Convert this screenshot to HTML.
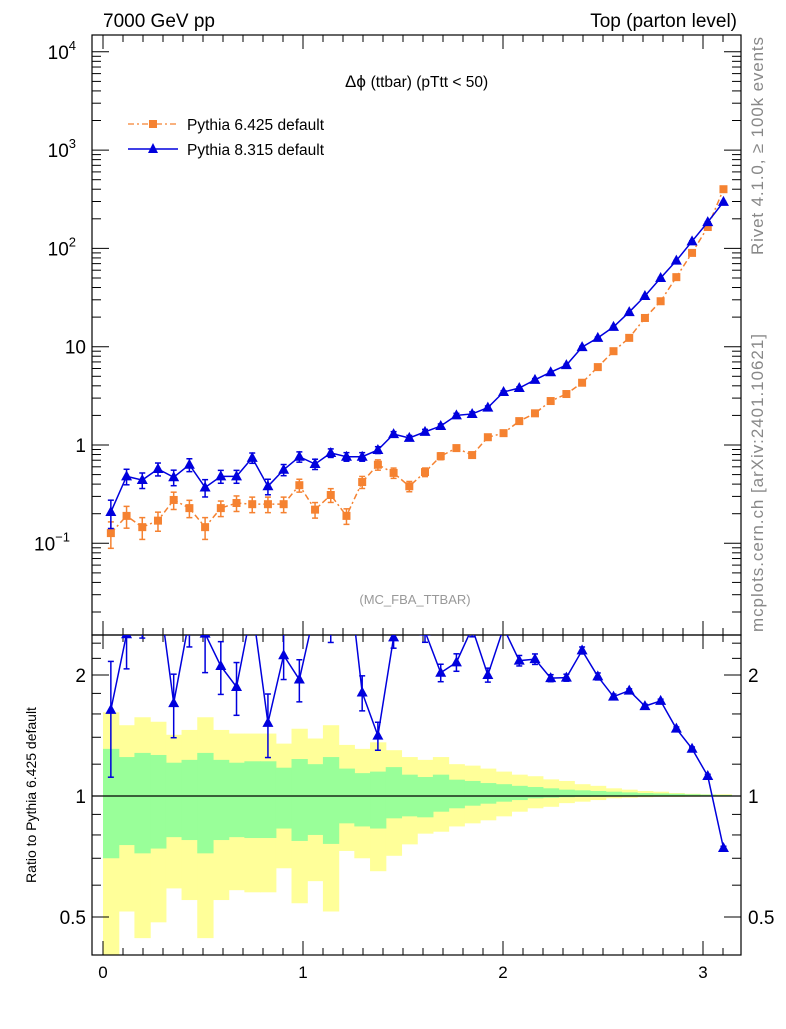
<!DOCTYPE html>
<html><head><meta charset="utf-8"><style>
body{margin:0;background:#fff;}
svg text{font-family:"Liberation Sans",sans-serif;}
</style></head><body>
<svg id="c" width="786" height="1024" xmlns="http://www.w3.org/2000/svg">
<defs>
<clipPath id="mainClip"><rect x="92" y="35" width="649" height="600"/></clipPath>
<clipPath id="ratioClip"><rect x="92" y="635" width="649" height="320"/></clipPath>
</defs>
<g id="bands" clip-path="url(#ratioClip)"></g>
<g id="axes"></g>
<g id="main" clip-path="url(#mainClip)"></g>
<g id="ratio" clip-path="url(#ratioClip)"></g>
<text x="103" y="27" font-size="19">7000 GeV pp</text>
<text x="737" y="27" font-size="19" text-anchor="end">Top (parton level)</text>
<text x="345" y="87" font-size="17">Δϕ <tspan font-size="15.5">(ttbar) (pTtt &lt; 50)</tspan></text>
<text x="415" y="604" font-size="13" fill="#999" text-anchor="middle">(MC_FBA_TTBAR)</text>
<text transform="translate(763,255) rotate(-90)" font-size="17" textLength="218" fill="#888">Rivet 4.1.0, ≥ 100k events</text>
<text transform="translate(763,632) rotate(-90)" font-size="17" textLength="298" fill="#888">mcplots.cern.ch [arXiv:2401.10621]</text>
<text transform="translate(36,795) rotate(-90)" font-size="14" text-anchor="middle">Ratio to Pythia 6.425 default</text>
<g>
<g>
<line x1="128" y1="124" x2="178" y2="124" stroke="#f58231" stroke-width="1.3" stroke-dasharray="6,3,2,3"/>
<rect x="149" y="120" width="8" height="8" fill="#f58231"/>
<text x="187" y="130" font-size="15.5">Pythia 6.425 default</text></g>
<g>
<line x1="128" y1="149" x2="178" y2="149" stroke="#0000dd" stroke-width="1.5"/>
<polygon points="153,143 158,153 148,153" fill="#0000dd"/>
<text x="187" y="155" font-size="15.5">Pythia 8.315 default</text></g>
</g>
</svg>
<script>
const p6 = [0.127,0.19,0.146,0.17,0.276,0.228,0.146,0.228,0.257,0.25,0.25,0.25,0.39,0.22,0.31,0.19,0.42,0.63,0.52,0.38,0.53,0.77,0.93,0.79,1.2,1.32,1.75,2.1,2.8,3.3,4.3,6.2,9.0,12.3,19.6,29,51,90,165,400];
const p8 = [0.208,0.48,0.44,0.57,0.47,0.63,0.37,0.48,0.48,0.74,0.38,0.56,0.76,0.64,0.83,0.76,0.76,0.89,1.29,1.18,1.36,1.56,2.0,2.07,2.4,3.46,3.8,4.6,5.5,6.5,9.9,12.3,15.9,22.5,32.8,50,75,118,185,297];
const p6err = [0.3,0.25,0.25,0.22,0.2,0.2,0.25,0.18,0.18,0.18,0.18,0.18,0.15,0.18,0.16,0.18,0.14,0.12,0.12,0.12,0.1,0.08,0.07,0.07,0.06,0.05,0.05,0.04,0.04,0.03,0.03,0.03,0.02,0.02,0.02,0.02,0.01,0.01,0.01,0.01];
const p8err = [0.32,0.18,0.18,0.15,0.18,0.15,0.2,0.15,0.15,0.12,0.18,0.13,0.12,0.12,0.1,0.1,0.1,0.08,0.06,0.06,0.06,0.05,0.05,0.05,0.04,0.03,0.03,0.03,0.02,0.02,0.02,0.02,0.015,0.01,0.01,0.01,0.01,0.01,0.01,0.01];
const yelUp = [1.615,1.5,1.57,1.53,1.42,1.46,1.57,1.46,1.43,1.43,1.43,1.35,1.47,1.39,1.5,1.34,1.31,1.36,1.3,1.25,1.23,1.25,1.2,1.19,1.17,1.15,1.13,1.12,1.1,1.09,1.07,1.06,1.045,1.037,1.029,1.025,1.017,1.013,1.01,1.01];
const grnUp = [1.31,1.25,1.28,1.265,1.21,1.23,1.28,1.23,1.21,1.22,1.22,1.176,1.236,1.2,1.25,1.17,1.14,1.15,1.18,1.13,1.115,1.13,1.098,1.09,1.077,1.07,1.06,1.053,1.045,1.037,1.033,1.029,1.025,1.021,1.017,1.015,1.013,1.01,1.008,1.006];
const grnLo = [0.7,0.755,0.72,0.74,0.79,0.777,0.72,0.777,0.79,0.786,0.786,0.83,0.773,0.8,0.76,0.855,0.84,0.83,0.88,0.89,0.885,0.914,0.932,0.946,0.957,0.968,0.977,0.987,0.99,0.993,0.995,0.996,0.997,0.997,0.998,0.998,0.998,0.999,0.999,0.999];
const yelLo = [0.35,0.516,0.443,0.485,0.589,0.551,0.443,0.551,0.583,0.576,0.576,0.661,0.541,0.614,0.516,0.73,0.7,0.65,0.71,0.758,0.806,0.815,0.84,0.855,0.87,0.89,0.914,0.932,0.94,0.96,0.968,0.977,0.987,0.99,0.993,0.995,0.995,0.996,0.997,0.997];
const xTicks = [0,1,2,3];
const nBins = p6.length, binW = Math.PI/nBins;
const NS="http://www.w3.org/2000/svg";
const X = v => 103 + v*200;
const Y = v => 445 - 98.3*Math.log10(v);
const R = v => 796 - 121*Math.log2(v);
function mk(tag, attrs, parent){const e=document.createElementNS(NS,tag);for(const k in attrs)e.setAttribute(k,attrs[k]);parent.appendChild(e);return e;}
const axes=document.getElementById('axes'), main=document.getElementById('main'), ratio=document.getElementById('ratio'), bands=document.getElementById('bands');
function band(up,lo,color,name){for(let i=0;i<nBins;i++){const x0=X(i*binW),x1=X((i+1)*binW);
 const r=mk('rect',{x:x0,y:R(up[i]),width:x1-x0+0.6,height:R(lo[i])-R(up[i]),fill:color},bands);
 
 }}
band(yelUp,yelLo,'#ffff99','band-yellow');
band(grnUp,grnLo,'#99ff99','band-green');
const f1=mk('rect',{x:92,y:35,width:649,height:600,fill:'none',stroke:'#000','stroke-width':1.2},axes);


const f2=mk('rect',{x:92,y:635,width:649,height:320,fill:'none',stroke:'#000','stroke-width':1.2},axes);


const l1=mk('line',{x1:92,y1:796,x2:741,y2:796,stroke:'#000','stroke-width':1.2},axes);


for(let k=0;k<=32;k++){const v=k/10;const x=X(v);if(x<92||x>741)continue;const major=k%10==0;const L=major?14:7;
 for(const [yb,dir] of [[635,-1],[35,1],[955,-1],[635,1]]) mk('line',{x1:x,y1:yb,x2:x,y2:yb+dir*L,stroke:'#000'},axes);}
xTicks.forEach(v=>{const t=mk('text',{x:X(v),y:978,'font-size':17,'text-anchor':'middle'},axes);t.textContent=v;
 
 });
for(let e=-2;e<=4;e++){for(let m=1;m<10;m++){const v=m*Math.pow(10,e);const y=Y(v);if(y<35||y>635)continue;const L=m==1?17:9;
 mk('line',{x1:92,y1:y,x2:92+L,y2:y,stroke:'#000'},axes);mk('line',{x1:741,y1:y,x2:741-L,y2:y,stroke:'#000'},axes);}}
const ylab=[[4,'10','4'],[3,'10','3'],[2,'10','2'],[1,'10',''],[0,'1',''],[-1,'10','−1']];
ylab.forEach(([e,b,s])=>{const t=mk('text',{x:s?(e==-1?70:76):86,y:Y(Math.pow(10,e))+7,'font-size':19,'text-anchor':'end'},axes);t.textContent=b;
 if(s){const sp=mk('tspan',{dy:-9,'font-size':13},t);sp.textContent=s;}
 
 });
[0.4,0.5,0.6,0.7,0.8,0.9,1,1.2,1.4,1.6,1.8,2,2.2,2.4].forEach(v=>{const y=R(v);if(y<635||y>955)return;const L=(v==0.5||v==1||v==2)?17:9;
 mk('line',{x1:92,y1:y,x2:92+L,y2:y,stroke:'#000'},axes);mk('line',{x1:741,y1:y,x2:741-L,y2:y,stroke:'#000'},axes);});
[[2,'2'],[1,'1'],[0.5,'0.5']].forEach(([v,s])=>{for(const [x,a] of [[86,'end'],[748,'start']]){const t=mk('text',{x:x,y:R(v)+7,'font-size':19,'text-anchor':a},axes);t.textContent=s;
 
 }});
function series(vals,errs,color,dash,marker,name){
 const pts=vals.map((v,i)=>[X((i+0.5)*binW),Y(v)]);
 const pl=mk('polyline',{points:pts.map(p=>p.join(',')).join(' '),fill:'none',stroke:color,'stroke-width':1.5,'stroke-dasharray':dash},main);
 
 
 vals.forEach((v,i)=>{const x=pts[i][0];const y1=Y(v*(1+errs[i])),y2=Y(v*(1-errs[i]));
  mk('line',{x1:x,y1:y1,x2:x,y2:y2,stroke:color,'stroke-width':1.5},main);
  mk('line',{x1:x-3,y1:y1,x2:x+3,y2:y1,stroke:color,'stroke-width':1.5},main);
  mk('line',{x1:x-3,y1:y2,x2:x+3,y2:y2,stroke:color,'stroke-width':1.5},main);
  const y=pts[i][1];let m;
  if(marker=='sq')m=mk('rect',{x:x-4,y:y-4,width:8,height:8,fill:color},main);
  else m=mk('polygon',{points:`${x},${y-6} ${x+5.5},${y+4} ${x-5.5},${y+4}`,fill:color},main);
  
  });
}
series(p6,p6err,'#f58231','6,3,2,3','sq','pythia6');
series(p8,p8err,'#0000dd','','tri','pythia8');
const rv=p8.map((v,i)=>v/p6[i]);
const rp=rv.map((v,i)=>[X((i+0.5)*binW),R(v)]);
const rl=mk('polyline',{points:rp.map(p=>p.join(',')).join(' '),fill:'none',stroke:'#0000dd','stroke-width':1.5},ratio);


rv.forEach((v,i)=>{const [x,y]=rp[i];const e=p8err[i];const y1=R(v*(1+e)),y2=R(v*(1-e));
 mk('line',{x1:x,y1:y1,x2:x,y2:y2,stroke:'#0000dd','stroke-width':1.5},ratio);
 mk('line',{x1:x-3,y1:y1,x2:x+3,y2:y1,stroke:'#0000dd','stroke-width':1.5},ratio);
 mk('line',{x1:x-3,y1:y2,x2:x+3,y2:y2,stroke:'#0000dd','stroke-width':1.5},ratio);
 const m=mk('polygon',{points:`${x},${y-6} ${x+5.5},${y+4} ${x-5.5},${y+4}`,fill:'#0000dd'},ratio);
 
 });
</script>
</body></html>
